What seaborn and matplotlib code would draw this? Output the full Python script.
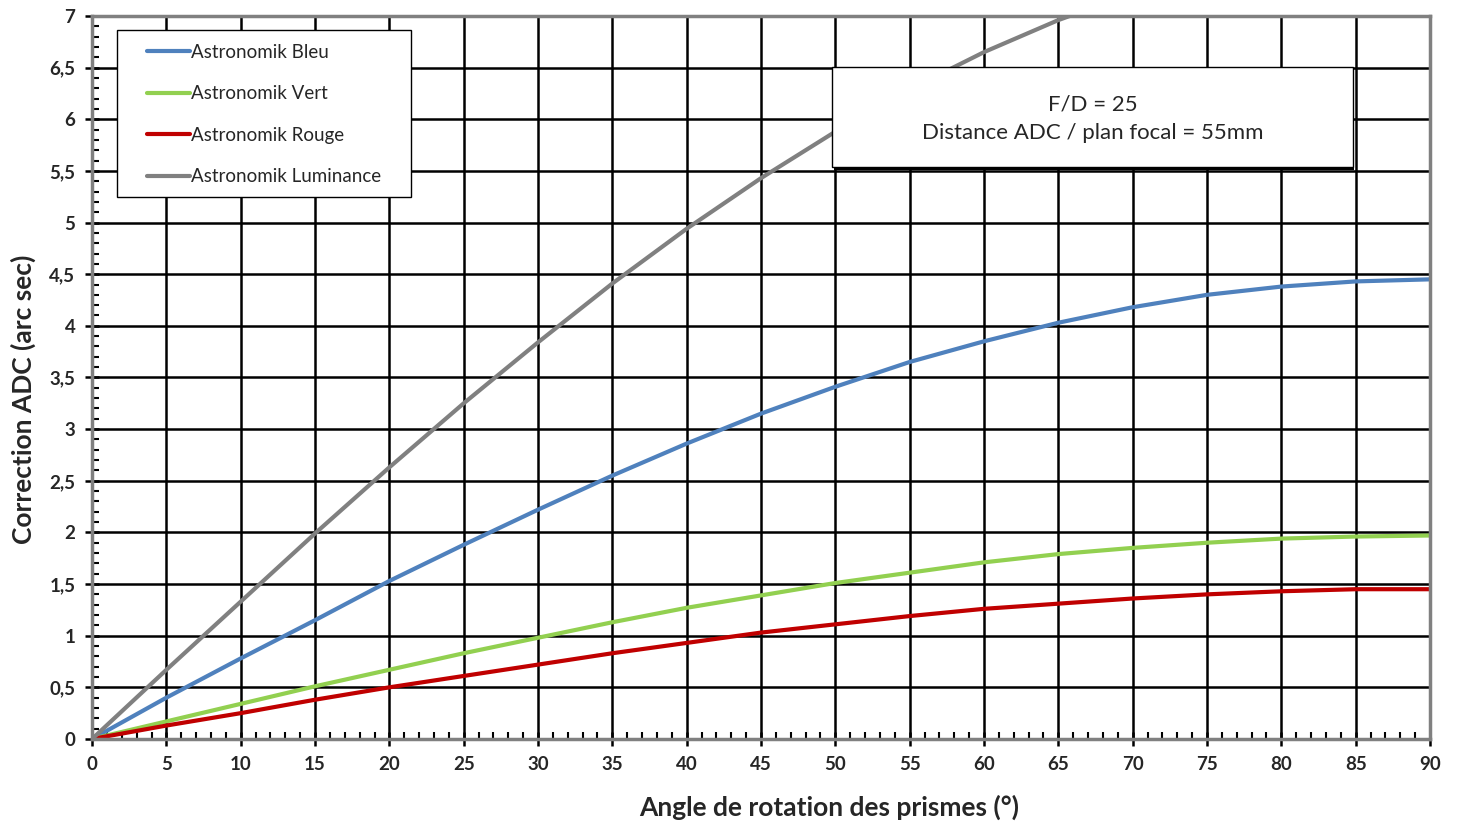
import numpy as np
import pandas as pd
import matplotlib
matplotlib.use("Agg")
import matplotlib.pyplot as plt
import seaborn as sns
from matplotlib.ticker import MultipleLocator, FuncFormatter
from matplotlib.patches import Rectangle
from matplotlib.lines import Line2D

angles = [0, 5, 10, 15, 20, 25, 30, 35, 40, 45, 50, 55, 60, 65, 70, 75, 80, 85, 90]
bleu = [0, 0.40, 0.78, 1.15, 1.53, 1.88, 2.22, 2.55, 2.86, 3.15, 3.41, 3.65, 3.85, 4.03, 4.18, 4.30, 4.38, 4.43, 4.45]
vert = [0, 0.17, 0.34, 0.51, 0.67, 0.83, 0.98, 1.13, 1.27, 1.39, 1.51, 1.61, 1.71, 1.79, 1.85, 1.90, 1.94, 1.96, 1.97]
rouge = [0, 0.13, 0.25, 0.38, 0.50, 0.61, 0.72, 0.83, 0.93, 1.03, 1.11, 1.19, 1.26, 1.31, 1.36, 1.40, 1.43, 1.45, 1.45]
lum = [0, 0.67, 1.33, 1.99, 2.63, 3.25, 3.84, 4.41, 4.94, 5.43, 5.88, 6.29, 6.65, 6.96, 7.22, 7.42, 7.56, 7.65, 7.68]
series_names = ["Astronomik Bleu", "Astronomik Vert", "Astronomik Rouge", "Astronomik Luminance"]
colors = ["#4F81BD", "#92D050", "#C00000", "#808080"]

df = pd.concat([
    pd.DataFrame({"angle": angles, "val": v, "serie": n})
    for v, n in zip([bleu, vert, rouge, lum], series_names)
])

sns.set_theme(style="white")
plt.rcParams['font.family'] = ['Lato', 'DejaVu Sans']

fig = plt.figure(figsize=(14.59, 8.23), dpi=100)
ax = fig.add_axes([0.0631, 0.1021, 0.9170, 0.8785])

sns.lineplot(data=df, x="angle", y="val", hue="serie", palette=dict(zip(series_names, colors)),
             linewidth=3, ax=ax, legend=False, sort=False)
for l in ax.lines:
    l.set_solid_capstyle('butt')

ax.set_xlim(0, 90)
ax.set_ylim(0, 7)
ax.xaxis.set_major_locator(MultipleLocator(5))
ax.xaxis.set_minor_locator(MultipleLocator(1))
ax.yaxis.set_major_locator(MultipleLocator(0.5))
ax.yaxis.set_minor_locator(MultipleLocator(0.1))
fmt = FuncFormatter(lambda v, p: (f"{v:g}").replace(".", ","))
ax.yaxis.set_major_formatter(fmt)
ax.grid(which="major", color="black", linewidth=1.8)
ax.set_axisbelow(True)
for s in ax.spines.values():
    s.set_color("#808080")
    s.set_linewidth(2.5)
ax.tick_params(axis="both", which="major", direction="inout", length=10, width=1.8, color="black",
               labelsize=13.5, pad=7)
ax.tick_params(axis="both", which="minor", direction="in", length=5, width=1.5, color="black")
ax.tick_params(left=True, bottom=True, which="both")
for lab in ax.get_xticklabels() + ax.get_yticklabels():
    lab.set_fontweight("bold")

ax.set_xlabel("Angle de rotation des prismes (°)", fontsize=19, fontweight="bold")
ax.set_ylabel("Correction ADC (arc sec)", fontsize=19, fontweight="bold")
ax.xaxis.set_label_coords(0.551, -0.0775)
ax.yaxis.set_label_coords(-0.0418, 0.47)

# legend frame drawn as a patch (axes coords), legend itself without frame
lx0 = (117 - 92) / 1338
lx1 = (411 - 92) / 1338
ly1 = (739 - 30) / 723
ly0 = (739 - 197) / 723
ax.add_patch(Rectangle((lx0, ly0), lx1 - lx0, ly1 - ly0, transform=ax.transAxes,
                       facecolor="white", edgecolor="black", linewidth=1.0, zorder=5))
handles = [Line2D([], [], color=c, linewidth=3) for c in colors]
leg = ax.legend(handles, series_names, loc="upper left",
                bbox_to_anchor=((147 - 92) / 1338, (739 - 44) / 723),
                frameon=False, fontsize=13.5,
                labelspacing=1.3, handlelength=2.3, handletextpad=0.05,
                borderpad=0, borderaxespad=0)
leg.set_zorder(6)

# annotation box with shadow
x0, x1 = 49.8, 84.8
y0, y1 = 5.54, 6.51
ax.add_patch(Rectangle((x0 + 0.12, y0 - 0.035), x1 - x0, y1 - y0, facecolor="black", edgecolor="none",
                       zorder=5))
ax.add_patch(Rectangle((x0, y0), x1 - x0, y1 - y0, facecolor="white", edgecolor="black",
                       linewidth=1.0, zorder=6))
ax.text((x0 + x1) / 2, (y0 + y1) / 2 - 0.02, "F/D = 25\nDistance ADC / plan focal = 55mm", ha="center",
        va="center", fontsize=16, linespacing=1.55, zorder=7)

fig.savefig("out.png", dpi=100)
